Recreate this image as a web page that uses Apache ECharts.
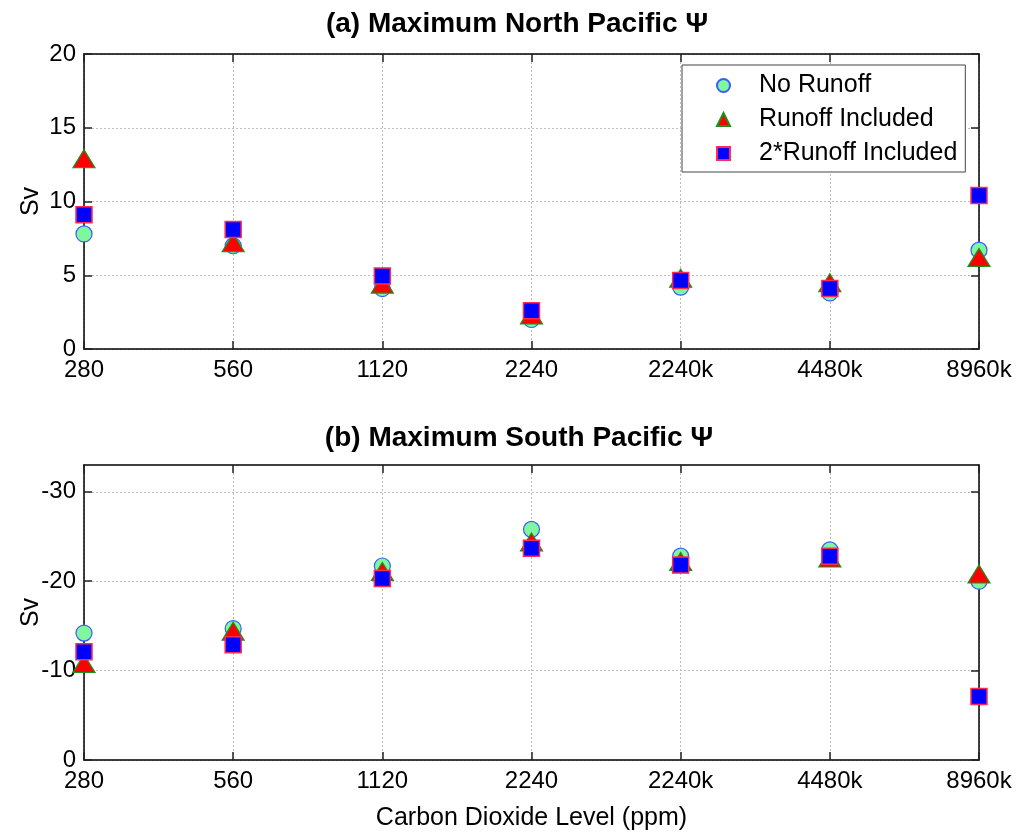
<!DOCTYPE html>
<html>
<head>
<meta charset="utf-8">
<title>Maximum Pacific Ψ</title>
<script src="https://cdn.jsdelivr.net/npm/echarts@6/dist/echarts.min.js"></script>
<style>
  html, body { margin: 0; padding: 0; background: #fff; }
  #chart { width: 1018px; height: 834px; }
</style>
</head>
<body>
<div id="chart"></div>
<script>
// CO2 scenarios on the shared category axis
const categories = ['280', '560', '1120', '2240', '2240k', '4480k', '8960k'];

// (a) maximum North Pacific overturning, Sv
const northNoRunoff = [7.8, 7.0, 4.1, 2.0, 4.2, 3.8, 6.7];
const northRunoff = [12.9, 7.2, 4.4, 2.3, 4.8, 4.5, 6.2];
const northRunoff2 = [9.1, 8.1, 4.95, 2.6, 4.65, 4.1, 10.4];

// (b) maximum South Pacific overturning, Sv
const southNoRunoff = [-14.2, -14.7, -21.7, -25.8, -22.8, -23.5, -20.0];
const southRunoff = [-10.8, -14.4, -21.1, -24.4, -22.2, -22.6, -20.8];
const southRunoff2 = [-12.1, -12.9, -20.3, -23.7, -21.8, -22.8, -7.1];

// tick labels
const northTicks = [0, 5, 10, 15, 20];
const southTicks = [-30, -20, -10, 0];

const seriesNames = ['No Runoff', 'Runoff Included', '2*Runoff Included'];

const FONT = 'Liberation Sans, Arial, Helvetica, sans-serif';

const markerStyles = [
  { symbol: 'circle', symbolSize: 16, itemStyle: { color: '#7ff79c', borderColor: '#3b5bff', borderWidth: 1.2, opacity: 1 } },
  { symbol: 'triangle', symbolSize: [22, 18], itemStyle: { color: '#ff0000', borderColor: '#1f8f1f', borderWidth: 1.2, opacity: 1 } },
  { symbol: 'rect', symbolSize: 16, itemStyle: { color: '#0000ff', borderColor: '#ff2a55', borderWidth: 1.5, opacity: 1 } }
];

const axisLineStyle = { color: '#000', width: 1.5 };
const tickStyle = { show: true, inside: true, length: 8, lineStyle: { color: '#222', width: 1.5 } };
const gridLine = { show: true, lineStyle: { color: '#bdbdbd', width: 1, type: [2, 2] } };

function bottomX(gridIndex, name) {
  return {
    type: 'category', gridIndex, data: categories, boundaryGap: false, position: 'bottom',
    axisLine: { show: true, onZero: false, lineStyle: axisLineStyle },
    axisTick: tickStyle,
    axisLabel: { color: '#000', fontFamily: FONT, fontSize: 24, margin: 9 },
    splitLine: gridLine,
    name: name || '', nameLocation: 'middle', nameGap: 46,
    nameTextStyle: { color: '#000', fontFamily: FONT, fontSize: 25 }
  };
}
function topX(gridIndex) {
  return {
    type: 'category', gridIndex, data: categories, boundaryGap: false, position: 'top',
    axisLine: { show: true, onZero: false, lineStyle: axisLineStyle },
    axisTick: tickStyle, axisLabel: { show: false }, splitLine: { show: false }
  };
}
function leftY(gridIndex, min, max, ticks, inverse) {
  return {
    type: 'value', gridIndex, min, max, inverse: !!inverse, position: 'left',
    axisLine: { show: true, onZero: false, lineStyle: axisLineStyle },
    axisTick: Object.assign({}, tickStyle, { customValues: ticks }),
    axisLabel: { color: '#000', fontFamily: FONT, fontSize: 24, margin: 8, customValues: ticks },
    splitLine: gridLine,
    name: 'Sv', nameLocation: 'middle', nameGap: 40, nameMoveOverlap: false,
    nameTextStyle: { color: '#000', fontFamily: FONT, fontSize: 25 }
  };
}
function rightY(gridIndex, min, max, ticks, inverse) {
  return {
    type: 'value', gridIndex, min, max, inverse: !!inverse, position: 'right',
    axisLine: { show: true, onZero: false, lineStyle: axisLineStyle },
    axisTick: Object.assign({}, tickStyle, { customValues: ticks }),
    axisLabel: { show: false, customValues: ticks }, splitLine: { show: false }
  };
}

function scatterSeries(values, i, xAxisIndex, yAxisIndex) {
  return Object.assign({
    type: 'scatter', name: seriesNames[i], data: values,
    xAxisIndex, yAxisIndex, clip: false, z: 3 + i,
    emphasis: { disabled: true }
  }, markerStyles[i]);
}

const chart = echarts.init(document.getElementById('chart'), null, { renderer: 'canvas' });

chart.setOption({
  animation: false,
  backgroundColor: '#fff',
  title: [
    { text: '(a) Maximum North Pacific Ψ', left: 512, top: 5, textAlign: 'center',
      textStyle: { fontFamily: FONT, fontWeight: 'bold', fontSize: 28, color: '#000' } },
    { text: '(b) Maximum South Pacific Ψ', left: 514, top: 419, textAlign: 'center',
      textStyle: { fontFamily: FONT, fontWeight: 'bold', fontSize: 28, color: '#000' } }
  ],
  legend: {
    orient: 'vertical', left: 682, top: 65,
    data: seriesNames,
    itemWidth: 13, itemHeight: 13, itemGap: 9,
    padding: [8, 8, 6, 34],
    backgroundColor: '#fff', borderColor: '#444', borderWidth: 1,
    textStyle: { color: '#000', fontFamily: FONT, fontSize: 25, lineHeight: 25, padding: [0, 0, 0, 24] },
    selectedMode: false, z: 10
  },
  grid: [
    { left: 84, right: 39, top: 54, height: 295, containLabel: false, outerBoundsMode: 'none' },
    { left: 84, right: 39, top: 465, height: 295, containLabel: false, outerBoundsMode: 'none' }
  ],
  xAxis: [bottomX(0), topX(0), bottomX(1, 'Carbon Dioxide Level (ppm)'), topX(1)],
  yAxis: [
    leftY(0, 0, 20, northTicks), rightY(0, 0, 20, northTicks),
    leftY(1, -33, 0, southTicks, true), rightY(1, -33, 0, southTicks, true)
  ],
  series: [
    scatterSeries(northNoRunoff, 0, 0, 0),
    scatterSeries(northRunoff, 1, 0, 0),
    scatterSeries(northRunoff2, 2, 0, 0),
    scatterSeries(southNoRunoff, 0, 2, 2),
    scatterSeries(southRunoff, 1, 2, 2),
    scatterSeries(southRunoff2, 2, 2, 2)
  ]
});
</script>
</body>
</html>
